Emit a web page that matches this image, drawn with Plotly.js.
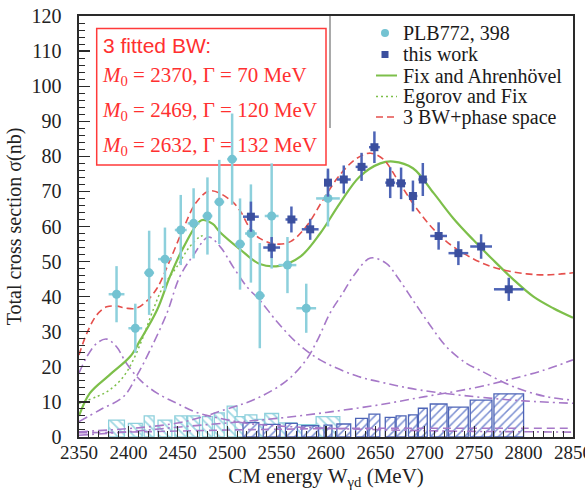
<!DOCTYPE html>
<html><head><meta charset="utf-8">
<script src="https://cdn.plot.ly/plotly-3.0.1.min.js"></script>
<style>html,body{margin:0;padding:0;background:#fff}</style>
</head><body><div id="chart" style="width:585px;height:490px"></div>
<script>
// ---- data: PLB772, 398 (cyan) ----
const plbX    = [2388,2407,2421,2437,2453,2466,2480,2492,2505,2513,2524,2533,2545,2561,2580,2602];
const plbY    = [40.7,31,46.8,50.7,59,60.9,63,67,79.2,55,58,40.3,63,49,36.7,68];
const plbErr  = [8,7,12,9,10,10,11,12,13,13,14,15,15,8,7,8];
const plbXerr = [8,7,5,7,6,6,5,5,5,5,6,5,7,9,10,12];
const plbSys  = [4.8,3.9,6,4.8,6,6,5.8,6.9,8.8,5.8,6.3,5,6.7,4,3.5,5.8];
// ---- data: this work (blue) ----
const twX    = [2524,2545,2565,2584,2602,2618,2636,2649,2665,2676,2688,2698,2714,2734,2757,2785];
const twY    = [62.8,54,62,59.2,72.5,73.4,77,82.6,72.5,72.3,68.7,73.4,57.3,52.4,54.3,42.1];
const twErr  = [4.3,3,3.7,3,4,4,4,4.5,4.4,4.5,4.4,4.7,3.9,3.4,3.5,3.3];
const twXerr = [8,8.5,6,8.5,4,7,6,5.5,5,5,4.5,4.5,8.5,10,11,15];
const twSys  = [4.1,3.6,3.9,3.2,3.4,3.7,5.3,6.5,5.6,6,6.3,8.2,9.4,8.5,10.5,12.3];
// ---- curves ----
const fixX = [2350,2361,2381,2402,2412,2429,2442,2456,2474,2485,2493,2513,2533,2553,2574,2594,2614,2634,2655,2668,2688,2709,2729,2749,2769,2790,2810,2830,2850];
const fixY = [6,12.5,17.7,23,27.6,36.2,45.7,54.2,61.8,60.8,58.3,53.5,49.3,48.8,51.4,58,66.6,74.2,78,78.5,76.6,69.5,62.3,56.2,50.5,44.8,40,36.7,34];
const egX  = [2350,2368,2381,2395,2405,2415,2425,2435,2449,2462,2472,2478];
const egY  = [9.6,11.5,13.4,17.2,22,28.6,36.2,42.8,48.5,54.2,57,57.6];
const bwX  = [2350,2358,2368,2378,2388,2398,2408,2418,2429,2440,2455,2469,2483,2503,2513,2523,2533,2550,2564,2580,2597,2614,2631,2645,2658,2672,2688,2705,2722,2742,2763,2783,2803,2823,2850];
const bwY  = [23.4,29.6,34.8,37.1,37.3,36.7,36.7,38.6,42.4,49,59,67,70.2,67.6,64.5,59.5,56.6,55,55.7,60,67.6,74.7,79.4,80.9,79.2,73.5,66.6,60.4,55.7,51.9,49,47.4,46.5,46.2,46.8];
const bw1X = [2350,2358,2368,2378,2388,2398,2412,2429,2449,2469,2493,2520,2560,2600,2650,2700,2750,2800,2850];
const bw1Y = [18.2,22.9,26.7,27.9,25.7,21,16.2,12.5,9.6,7,5.3,3.9,3,2.5,2.1,1.8,1.6,1.5,1.4];
const bw2X = [2350,2371,2395,2408,2422,2439,2452,2466,2481,2493,2506,2520,2533,2550,2570,2594,2630,2661,2695,2750,2800,2850];
const bw2Y = [4.4,7.7,11.5,17.2,24.8,35.3,45.7,51.9,57,54.2,48.5,42.8,39,33,27,22,17.5,15.3,13.4,11.5,10.3,9.6];
const bw3X = [2350,2450,2500,2530,2560,2580,2592,2604,2617,2628,2645,2661,2672,2688,2705,2722,2742,2756,2790,2823,2850];
const bw3Y = [1.5,4,8,11,16,22,28,35.3,41,46,51,49.5,45.7,39,32,25.7,21,19,14.3,11.5,10.5];
const psX  = [2350,2400,2450,2500,2550,2600,2650,2700,2750,2783,2820,2850];
const psY  = [0.5,1.5,2.8,4,5.3,7,9,11.5,14,16.2,19,22];
const bgX  = [2350,2400,2450,2500,2550,2600,2650,2700,2750,2800,2850];
const bgY  = [1.2,1.4,1.7,2,2.2,2.4,2.5,2.5,2.5,2.5,2.5];

const legendLabels = ['PLB772, 398','this work','Fix and Ahrenhövel','Egorov and Fix','3 BW+phase space'];
const boxLines = ['3 fitted BW:',
  '<i>M</i><sub>0</sub> = 2370, Γ = 70 MeV',
  '<i>M</i><sub>0</sub> = 2469, Γ = 120 MeV',
  '<i>M</i><sub>0</sub> = 2632, Γ = 132 MeV'];

// colours
const CYAN='#74c3d2', CYANE='#8dd0dc', BLUE='#3b4f9e', BLUEE='#4d64b6',
      GREEN='#7dbf4a', RED='#e5504d', PURPLE='#a678c8', RTXT='#ff3030';

// pixel helpers for decorations (plot area: x 79..573, y 16..437)
const PX = p => (p-79)/494, PY = p => (437-p)/421;

const serif = 'Liberation Serif';
const purpleLine = (x,y,dash) => ({x:x,y:y,type:'scatter',mode:'lines',showlegend:false,
   line:{color:PURPLE,width:1.6,dash:dash,shape:'spline',smoothing:1},hoverinfo:'skip'});

const traces = [
 {type:'bar',x:plbX,y:plbSys,width:plbXerr.map(v=>2*v),showlegend:false,
  marker:{color:'white',line:{color:CYANE,width:1.3},
    pattern:{shape:'\\',fgcolor:'#9fd8e3',bgcolor:'white',size:6,solidity:0.3}}},
 {type:'bar',x:twX,y:twSys,width:twXerr.map(v=>2*v),showlegend:false,
  marker:{color:'white',line:{color:BLUEE,width:1.3},
    pattern:{shape:'/',fgcolor:'#7b8fd2',bgcolor:'white',size:6,solidity:0.25}}},
 purpleLine(bgX,bgY,'8px,5px'),
 purpleLine(bw1X,bw1Y,'9px,4px,2px,4px'),
 purpleLine(bw2X,bw2Y,'9px,4px,2px,4px'),
 purpleLine(bw3X,bw3Y,'9px,4px,2px,4px'),
 purpleLine(psX,psY,'9px,4px,2px,4px'),
 {x:egX,y:egY,type:'scatter',mode:'lines',name:legendLabels[3],showlegend:false,
  line:{color:GREEN,width:1.5,dash:'2px,3px',shape:'spline',smoothing:1}},
 {x:fixX,y:fixY,type:'scatter',mode:'lines',name:legendLabels[2],showlegend:false,
  line:{color:GREEN,width:2.2,shape:'spline',smoothing:1}},
 {x:bwX,y:bwY,type:'scatter',mode:'lines',name:legendLabels[4],showlegend:false,
  line:{color:RED,width:1.6,dash:'7px,4px',shape:'spline',smoothing:1}},
 {x:plbX,y:plbY,type:'scatter',mode:'markers',name:legendLabels[0],showlegend:false,
  marker:{symbol:'circle',size:9,color:CYAN},
  error_y:{type:'data',array:plbErr,color:CYANE,thickness:2.5,width:0},
  error_x:{type:'data',array:plbXerr,color:CYANE,thickness:2.5,width:0}},
 {x:twX,y:twY,type:'scatter',mode:'markers',name:legendLabels[1],showlegend:false,
  marker:{symbol:'square',size:8,color:BLUE},
  error_y:{type:'data',array:twErr,color:BLUEE,thickness:2.5,width:0},
  error_x:{type:'data',array:twXerr,color:BLUEE,thickness:2.5,width:0}}
];

// manual legend (text + samples) so that line spacing matches
const legY = [33,54.5,75.5,96.5,117];
const shapes = [
 {type:'rect',xref:'paper',yref:'paper',x0:PX(96.7),x1:PX(326),y0:PY(165),y1:PY(28.5),
  line:{color:'#ff3a3a',width:1.5},layer:'below'},
 {type:'line',xref:'paper',yref:'paper',x0:PX(330),x1:PX(330),y0:PY(16),y1:PY(128),
  line:{color:'#555',width:1}},
 {type:'circle',xref:'paper',yref:'paper',x0:PX(381),x1:PX(389),y0:PY(legY[0]+4),y1:PY(legY[0]-4),
  fillcolor:CYAN,line:{width:0}},
 {type:'rect',xref:'paper',yref:'paper',x0:PX(381.5),x1:PX(388.5),y0:PY(legY[1]+3.5),y1:PY(legY[1]-3.5),
  fillcolor:BLUE,line:{width:0}},
 {type:'line',xref:'paper',yref:'paper',x0:PX(376),x1:PX(397),y0:PY(legY[2]),y1:PY(legY[2]),
  line:{color:GREEN,width:2}},
 {type:'line',xref:'paper',yref:'paper',x0:PX(376),x1:PX(397),y0:PY(legY[3]),y1:PY(legY[3]),
  line:{color:GREEN,width:1.5,dash:'2px,3px'}},
 {type:'line',xref:'paper',yref:'paper',x0:PX(376),x1:PX(397),y0:PY(legY[4]),y1:PY(legY[4]),
  line:{color:RED,width:1.6,dash:'7px,4px'}}
];

const annotations = [];
legendLabels.forEach((t,i)=>annotations.push({xref:'paper',yref:'paper',x:PX(401),y:PY(legY[i]),
  xanchor:'left',yanchor:'middle',showarrow:false,text:t,font:{family:serif,size:20,color:'#1a1a1a'}}));
const boxY=[45,76,111,146];
boxLines.forEach((t,i)=>annotations.push({xref:'paper',yref:'paper',x:PX(i===0?101:100),y:PY(boxY[i]),
  xanchor:'left',yanchor:'middle',showarrow:false,text:t,
  font:{family:i===0?'Liberation Sans':serif,size:21,color:RTXT}}));

const axisCommon = {showline:true,linecolor:'#2a2a2a',linewidth:1.6,mirror:true,showgrid:false,zeroline:false,
  ticks:'inside',ticklen:11,tickwidth:1.3,tickcolor:'#2a2a2a'};

const layout = {
 width:585,height:490,margin:{l:79,r:12,t:16,b:53},
 paper_bgcolor:'white',plot_bgcolor:'white',barmode:'overlay',bargap:0,showlegend:false,
 font:{family:serif},
 xaxis:Object.assign({},axisCommon,{range:[2350,2850.01],tick0:2350,dtick:50,
   minor:{dtick:10,ticks:'inside',ticklen:6,tickwidth:1,tickcolor:'#2a2a2a'},
   tickfont:{family:serif,size:19,color:'#222'},ticklabelstandoff:-2,ticklabeloverflow:'allow',
   title:{text:'CM energy W<sub>γd</sub> (MeV)',font:{family:serif,size:21,color:'#222'},standoff:6}}),
 yaxis:Object.assign({},axisCommon,{range:[0,120],tick0:0,dtick:10,
   minor:{dtick:2,ticks:'inside',ticklen:6,tickwidth:1,tickcolor:'#2a2a2a'},
   tickfont:{family:serif,size:20,color:'#222'},ticklabelstandoff:12,
   title:{text:'Total cross section σ(nb)',font:{family:serif,size:20,color:'#222'},standoff:4}}),
 shapes:shapes,annotations:annotations
};

Plotly.newPlot('chart',traces,layout,{staticPlot:true,displayModeBar:false});
</script></body></html>
